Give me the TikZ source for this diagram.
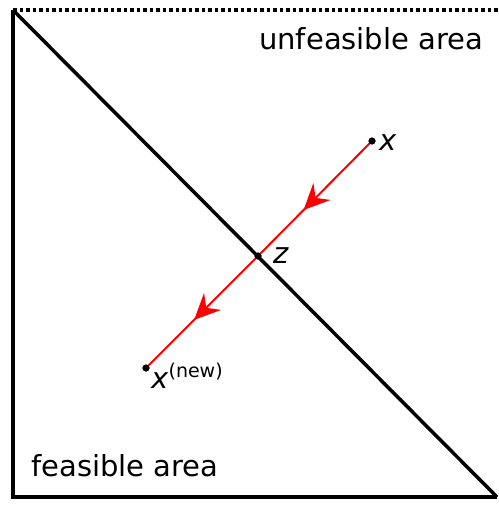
\documentclass[tikz,border=0pt]{standalone}
\usepackage{fontspec}
\setmainfont{DejaVu Sans}
\usetikzlibrary{arrows.meta,decorations.markings}
\begin{document}
\begin{tikzpicture}[x=1pt,y=-1pt,
  bd/.style={line width=3.5pt},
  pt/.style={circle,fill=black,inner sep=0pt,minimum size=7pt},
  lbl/.style={inner sep=0pt,font=\fontsize{29}{34}\selectfont},
  redarrow/.style={draw=red,line width=2pt,postaction={decorate},
    decoration={markings,mark=at position #1 with {\arrow[red]{Stealth[length=26pt,width=24pt,inset=9pt]}}}}]
\useasboundingbox (0,0) rectangle (498,505);
\coordinate (tl) at (13,10);
\coordinate (tr) at (498,10);
\coordinate (bl) at (13,497);
\coordinate (br) at (497,497);
\draw[line width=3.5pt,dash pattern=on 3.5pt off 3pt] (tl) -- (tr);
\draw[bd] (tl) -- (bl) -- (br);
\draw[bd] (tl) -- (br);
\node[pt] (x) at (372,141) {};
\node[pt] (z) at (258,256) {};
\node[pt] (xn) at (146,368) {};
\path[redarrow=0.6] (x.center) -- (z.center);
\path[redarrow=0.57] (z.center) -- (xn.center);
\node[pt] at (x) {};
\node[pt] at (z) {};
\node[pt] at (xn) {};
\node[lbl,anchor=base west] (xl) at (379,150) {\textit{x}};
\node[lbl,anchor=base west] (zl) at (273,263) {\textit{z}};
\node[lbl,anchor=base west] (xnl) at (151,388) {\textit{x}\raisebox{11pt}{\fontsize{19}{22}\selectfont(new)}};
\node[lbl,anchor=base west] (ua) at (259,50) {unfeasible area};
\node[lbl,anchor=base west] (fa) at (31,476) {feasible area};
\end{tikzpicture}
\end{document}
